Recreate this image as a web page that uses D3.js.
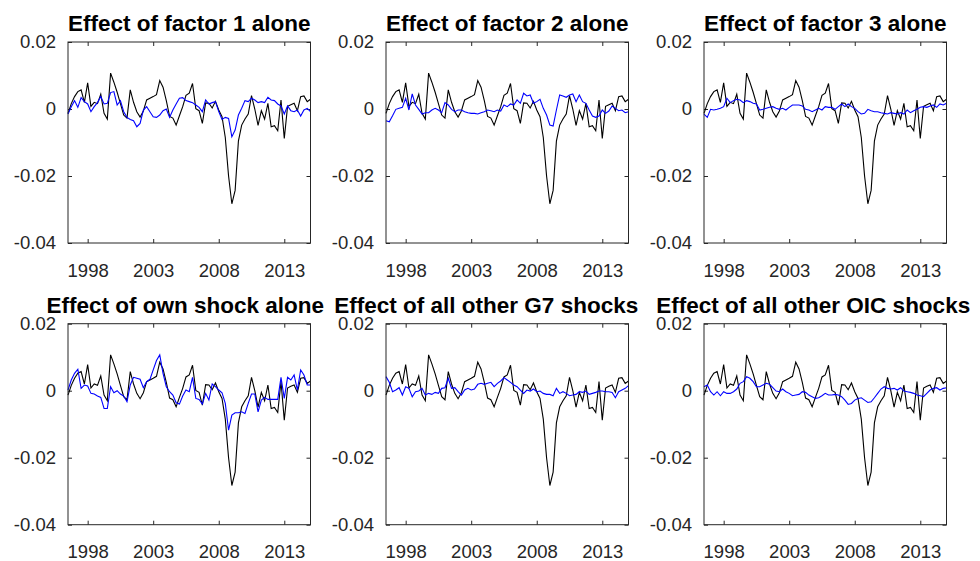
<!DOCTYPE html>
<html>
<head>
<meta charset="utf-8">
<script src="https://d3js.org/d3.v7.min.js"></script>
<style>
  body { margin: 0; background: #ffffff; }
  text { font-family: "Liberation Sans", Arial, Helvetica, sans-serif; }
</style>
</head>
<body>
<div class="chart"></div>
<script>
var svgWidth = 980;
var svgHeight = 561;

// quarterly sample, first observation and step (years)
var startYear = 1996.5;
var quarterStep = 0.25;

var titles = [
  "Effect of factor 1 alone",
  "Effect of factor 2 alone",
  "Effect of factor 3 alone",
  "Effect of own shock alone",
  "Effect of all other G7 shocks",
  "Effect of all other OIC shocks"
];

var xTicks = [1998, 2003, 2008, 2013];
var yTicks = [0.02, 0, -0.02, -0.04];
var yTickLabels = ["0.02", "0", "-0.02", "-0.04"];

// black line: the same series in every panel
var actual = [
  -0.0013, 0.0016, 0.0037, 0.0052, 0.0057, 0.0020, 0.0078, 0.0008, 0.0020, 0.0016,
  0.0044, -0.0013, -0.0030, 0.0107, 0.0080, 0.0050, 0.0016, -0.0018, -0.0027, 0.0057,
  0.0020, -0.0008, -0.0024, -0.0006, 0.0027, 0.0032, 0.0037, 0.0043, 0.0085, 0.0065,
  0.0025, -0.0022, -0.0027, -0.0048, -0.0020, 0.0007, 0.0041, 0.0047, 0.0076, 0.0001,
  -0.0005, -0.0043, 0.0018, 0.0017, 0.0003, 0.0023, -0.0003, -0.0023, -0.0085, -0.0200,
  -0.0283, -0.0243, -0.0096, -0.0048, -0.0030, -0.0015, 0.0040, 0.0000, -0.0049, -0.0005,
  -0.0030, 0.0017, -0.0053, -0.0050, -0.0065, 0.0027, -0.0088, 0.0008, 0.0013, 0.0017,
  -0.0005, 0.0037, 0.0039, 0.0022, 0.0029
];

// blue lines, one per panel
var factor1 = [
  -0.0015, 0.0007, 0.0025, 0.0005, 0.0034, 0.0022, 0.0015, -0.0008, 0.0007, 0.0019,
  0.0037, 0.0015, 0.0017, 0.0049, 0.0052, 0.0012, 0.0025, -0.0008, -0.0025, -0.0031,
  -0.0035, -0.0053, -0.0043, -0.0003, 0.0007, -0.0008, -0.0023, -0.0025, -0.0018, -0.0005,
  0.0000, -0.0025, -0.0003, 0.0015, 0.0032, 0.0034, 0.0025, 0.0022, 0.0019, 0.0012,
  0.0005, -0.0008, 0.0027, 0.0015, 0.0019, 0.0022, -0.0008, -0.0031, -0.0025, -0.0028,
  -0.0083, -0.0063, -0.0018, 0.0002, 0.0025, 0.0022, 0.0032, 0.0027, 0.0019, 0.0022,
  0.0019, 0.0035, 0.0027, 0.0025, 0.0015, 0.0009, -0.0015, 0.0009, -0.0005, -0.0008,
  -0.0003, -0.0021, -0.0003, 0.0002, -0.0008
];

var factor2 = [
  -0.0035, -0.0038, -0.0020, -0.0001, 0.0002, 0.0005, 0.0032, -0.0003, 0.0045, 0.0012,
  -0.0001, -0.0015, -0.0011, -0.0011, -0.0003, 0.0002, -0.0003, -0.0011, 0.0019, 0.0012,
  -0.0001, -0.0008, -0.0003, -0.0003, -0.0008, -0.0011, -0.0013, -0.0013, -0.0015, -0.0011,
  -0.0008, -0.0003, -0.0005, -0.0008, -0.0003, -0.0006, 0.0012, 0.0007, 0.0015, 0.0012,
  0.0027, 0.0017, 0.0047, 0.0039, 0.0042, 0.0017, 0.0022, 0.0029, 0.0002, -0.0018,
  -0.0048, -0.0051, -0.0003, 0.0042, 0.0039, 0.0035, 0.0042, 0.0045, 0.0022, 0.0042,
  0.0022, 0.0017, -0.0003, -0.0021, -0.0025, -0.0021, -0.0003, -0.0013, -0.0006, 0.0009,
  0.0002, -0.0005, -0.0003, -0.0011, -0.0008
];

var factor3 = [
  -0.0015, -0.0025, -0.0001, -0.0003, -0.0001, 0.0002, 0.0007, 0.0032, 0.0019, 0.0025,
  0.0029, 0.0027, 0.0019, 0.0025, 0.0022, 0.0017, 0.0015, -0.0003, -0.0001, 0.0002,
  0.0005, 0.0007, 0.0002, -0.0001, 0.0002, -0.0003, 0.0005, 0.0012, 0.0012, 0.0012,
  0.0009, -0.0001, -0.0003, -0.0008, -0.0003, 0.0002, -0.0003, 0.0007, 0.0005, 0.0005,
  -0.0001, 0.0007, 0.0015, 0.0007, 0.0015, 0.0007, 0.0002, -0.0008, -0.0015, -0.0013,
  -0.0001, -0.0005, -0.0008, -0.0008, -0.0011, -0.0013, -0.0015, -0.0011, -0.0013, -0.0015,
  -0.0011, -0.0015, -0.0003, -0.0011, -0.0005, -0.0001, 0.0005, 0.0007, 0.0005, 0.0009,
  0.0012, 0.0005, 0.0015, 0.0012, 0.0017
];

var ownShock = [
  0.0002, 0.0032, 0.0052, 0.0064, 0.0007, 0.0017, 0.0014, -0.0008, -0.0010, -0.0016,
  -0.0020, -0.0053, -0.0053, 0.0012, -0.0006, 0.0000, -0.0010, -0.0016, -0.0033, 0.0017,
  0.0040, 0.0037, 0.0034, 0.0009, 0.0027, 0.0034, 0.0062, 0.0090, 0.0107, 0.0052,
  0.0012, -0.0003, -0.0013, -0.0036, -0.0040, -0.0016, 0.0002, -0.0003, 0.0040, -0.0023,
  -0.0026, -0.0040, -0.0008, -0.0028, 0.0020, 0.0012, 0.0002, -0.0006, -0.0038, -0.0118,
  -0.0073, -0.0066, -0.0066, -0.0063, -0.0068, -0.0038, -0.0010, -0.0010, -0.0063, -0.0028,
  -0.0020, -0.0026, -0.0026, -0.0026, -0.0026, 0.0040, -0.0023, 0.0040, 0.0032, 0.0047,
  0.0002, 0.0062, 0.0047, 0.0017, 0.0017
];

var otherG7 = [
  0.0042, 0.0025, -0.0003, 0.0002, 0.0009, -0.0013, 0.0012, 0.0007, -0.0018, -0.0003,
  -0.0001, 0.0007, -0.0013, -0.0008, -0.0011, -0.0005, -0.0008, 0.0007, 0.0009, 0.0037,
  0.0007, 0.0009, -0.0003, -0.0013, 0.0002, 0.0007, 0.0002, 0.0005, 0.0019, 0.0022,
  0.0019, 0.0022, 0.0025, 0.0012, 0.0022, 0.0029, 0.0039, 0.0032, 0.0025, 0.0017,
  0.0012, 0.0002, -0.0008, 0.0002, -0.0001, 0.0005, -0.0003, -0.0001, -0.0008, -0.0011,
  -0.0011, -0.0015, 0.0007, -0.0008, -0.0003, -0.0008, -0.0015, -0.0013, -0.0011, -0.0003,
  -0.0005, -0.0001, -0.0011, -0.0008, -0.0005, -0.0001, -0.0001, -0.0003, -0.0003, -0.0005,
  -0.0021, -0.0003, 0.0002, 0.0007, 0.0015
];

var otherOIC = [
  0.0012, 0.0017, -0.0003, -0.0013, -0.0003, -0.0015, -0.0003, -0.0008, -0.0008, -0.0003,
  0.0005, 0.0022, 0.0027, 0.0042, 0.0037, 0.0027, 0.0012, 0.0012, 0.0017, 0.0022,
  0.0019, 0.0009, -0.0001, -0.0003, 0.0005, -0.0003, -0.0008, -0.0015, -0.0013, -0.0011,
  -0.0003, -0.0005, -0.0013, -0.0018, -0.0023, -0.0021, -0.0015, -0.0008, -0.0013, -0.0013,
  -0.0011, -0.0013, -0.0018, -0.0028, -0.0041, -0.0038, -0.0028, -0.0023, -0.0021, -0.0028,
  -0.0035, -0.0033, -0.0021, -0.0008, 0.0005, 0.0012, 0.0007, 0.0005, 0.0007, 0.0002,
  0.0009, -0.0001, -0.0003, -0.0005, -0.0008, -0.0013, -0.0015, -0.0018, -0.0008, 0.0002,
  0.0007, 0.0009, 0.0002, 0.0007, 0.0009
];

var effects = [factor1, factor2, factor3, ownShock, otherG7, otherOIC];

// layout of the 2 x 3 grid
var panelLeft = [68, 386, 704];
var panelTop = [42, 323.7];
var panelWidth = 242.5;
var panelHeight = 201;
var axisColor = "#262626";
// the long titles on the second row sit a little left of centre
var titleShift = [0, 0, 0, -4, -21, -12];

var dates = actual.map(function(d, i) { return startYear + i * quarterStep; });

var svg = d3.select(".chart")
  .append("svg")
  .attr("width", svgWidth)
  .attr("height", svgHeight)
  .style("background", "#ffffff");

var xScale = d3.scaleLinear()
  .domain([dates[0], dates[dates.length - 1]])
  .range([0, panelWidth]);

var yScale = d3.scaleLinear()
  .domain([-0.04, 0.02])
  .range([panelHeight, 0]);

var line = d3.line()
  .x(function(d, i) { return xScale(dates[i]); })
  .y(function(d) { return yScale(d); });

titles.forEach(function(title, k) {
  var col = k % 3;
  var row = Math.floor(k / 3);

  var chart = svg.append("g")
    .attr("transform", "translate(" + panelLeft[col] + "," + panelTop[row] + ")");

  // bottom axis with labels
  var bottomAxis = d3.axisBottom(xScale)
    .tickValues(xTicks)
    .tickFormat(d3.format("d"))
    .tickSizeInner(-4)
    .tickSizeOuter(0)
    .tickPadding(20.5);

  var leftAxis = d3.axisLeft(yScale)
    .tickValues(yTicks)
    .tickFormat(function(d, i) { return yTickLabels[i]; })
    .tickSizeInner(-4)
    .tickSizeOuter(0)
    .tickPadding(12);

  var gx = chart.append("g")
    .attr("transform", "translate(0," + panelHeight + ")")
    .call(bottomAxis);

  var gy = chart.append("g")
    .call(leftAxis);

  // mirrored ticks on top and right (box on)
  var gt = chart.append("g")
    .call(d3.axisTop(xScale).tickValues(xTicks).tickFormat("").tickSizeInner(-4).tickSizeOuter(0));

  var gr = chart.append("g")
    .attr("transform", "translate(" + panelWidth + ",0)")
    .call(d3.axisRight(yScale).tickValues(yTicks).tickFormat("").tickSizeInner(-4).tickSizeOuter(0));

  [gx, gy, gt, gr].forEach(function(g) {
    g.select(".domain").remove();
    g.selectAll(".tick line").attr("stroke", axisColor);
    g.selectAll(".tick text")
      .attr("fill", axisColor)
      .style("font-size", "18.5px")
      .style("font-family", "'Liberation Sans', Arial, sans-serif");
  });

  chart.append("path")
    .datum(actual)
    .attr("fill", "none")
    .attr("stroke", "#000000")
    .attr("stroke-width", 1.1)
    .attr("d", line);

  chart.append("path")
    .datum(effects[k])
    .attr("fill", "none")
    .attr("stroke", "#0000ff")
    .attr("stroke-width", 1.1)
    .attr("d", line);

  chart.append("rect")
    .attr("x", 0)
    .attr("y", 0)
    .attr("width", panelWidth)
    .attr("height", panelHeight)
    .attr("fill", "none")
    .attr("stroke", axisColor)
    .attr("stroke-width", 1);

  chart.append("text")
    .attr("x", panelWidth / 2 + titleShift[k])
    .attr("y", -11)
    .attr("text-anchor", "middle")
    .style("font-size", "22.5px")
    .style("font-weight", "bold")
    .style("fill", "#000000")
    .text(title);
});
</script>
</body>
</html>
